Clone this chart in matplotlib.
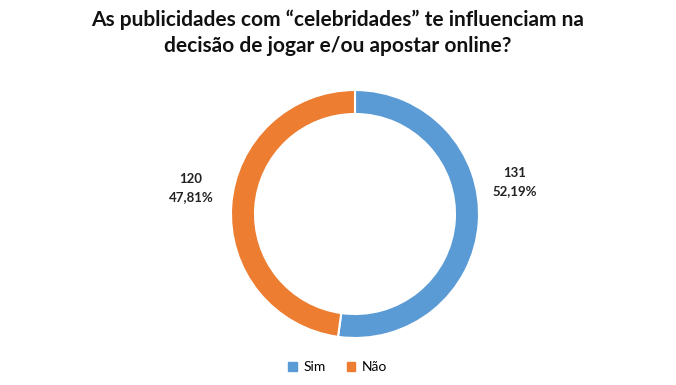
import matplotlib.pyplot as plt
from matplotlib.patches import Patch

labels = ['Sim', 'Não']
values = [131, 120]
percents = ['52,19%', '47,81%']
colors = ['#5B9BD5', '#ED7D31']

plt.rcParams['font.family'] = ['Lato', 'DejaVu Sans']

fig = plt.figure(figsize=(6.76, 3.85), dpi=100)
ax = fig.add_axes([0, 0, 1, 1])

wedges, _ = ax.pie(values, colors=colors, startangle=90, counterclock=False,
                   center=(355, 171), radius=124,
                   wedgeprops=dict(width=24, edgecolor='white', linewidth=1.5))
ax.set_xlim(0, 676)
ax.set_ylim(0, 385)
ax.axis('off')

# data labels
ax.text(515, 385 - 182, f"{values[0]}\n{percents[0]}", ha='center', va='center',
        fontsize=9.5, fontweight='bold', linespacing=1.6, color='#222222')
ax.text(191, 385 - 188, f"{values[1]}\n{percents[1]}", ha='center', va='center',
        fontsize=9.5, fontweight='bold', linespacing=1.6, color='#222222')

fig.text(0.5, 1 - 33 / 385,
         "As publicidades com \u201ccelebridades\u201d te influenciam na\n"
         "decisão de jogar e/ou apostar online?",
         ha='center', va='center', fontsize=15, fontweight='bold',
         linespacing=1.4, color='#111111')

handles = [Patch(color=c, label=l) for c, l in zip(colors, labels)]
fig.legend(handles=handles, loc='center', bbox_to_anchor=(0.5, 1 - 367 / 385),
           ncol=2, frameon=False, fontsize=10, handlelength=0.6, handleheight=0.6,
           handletextpad=0.5, columnspacing=1.5)

fig.savefig('out.png', dpi=100)
